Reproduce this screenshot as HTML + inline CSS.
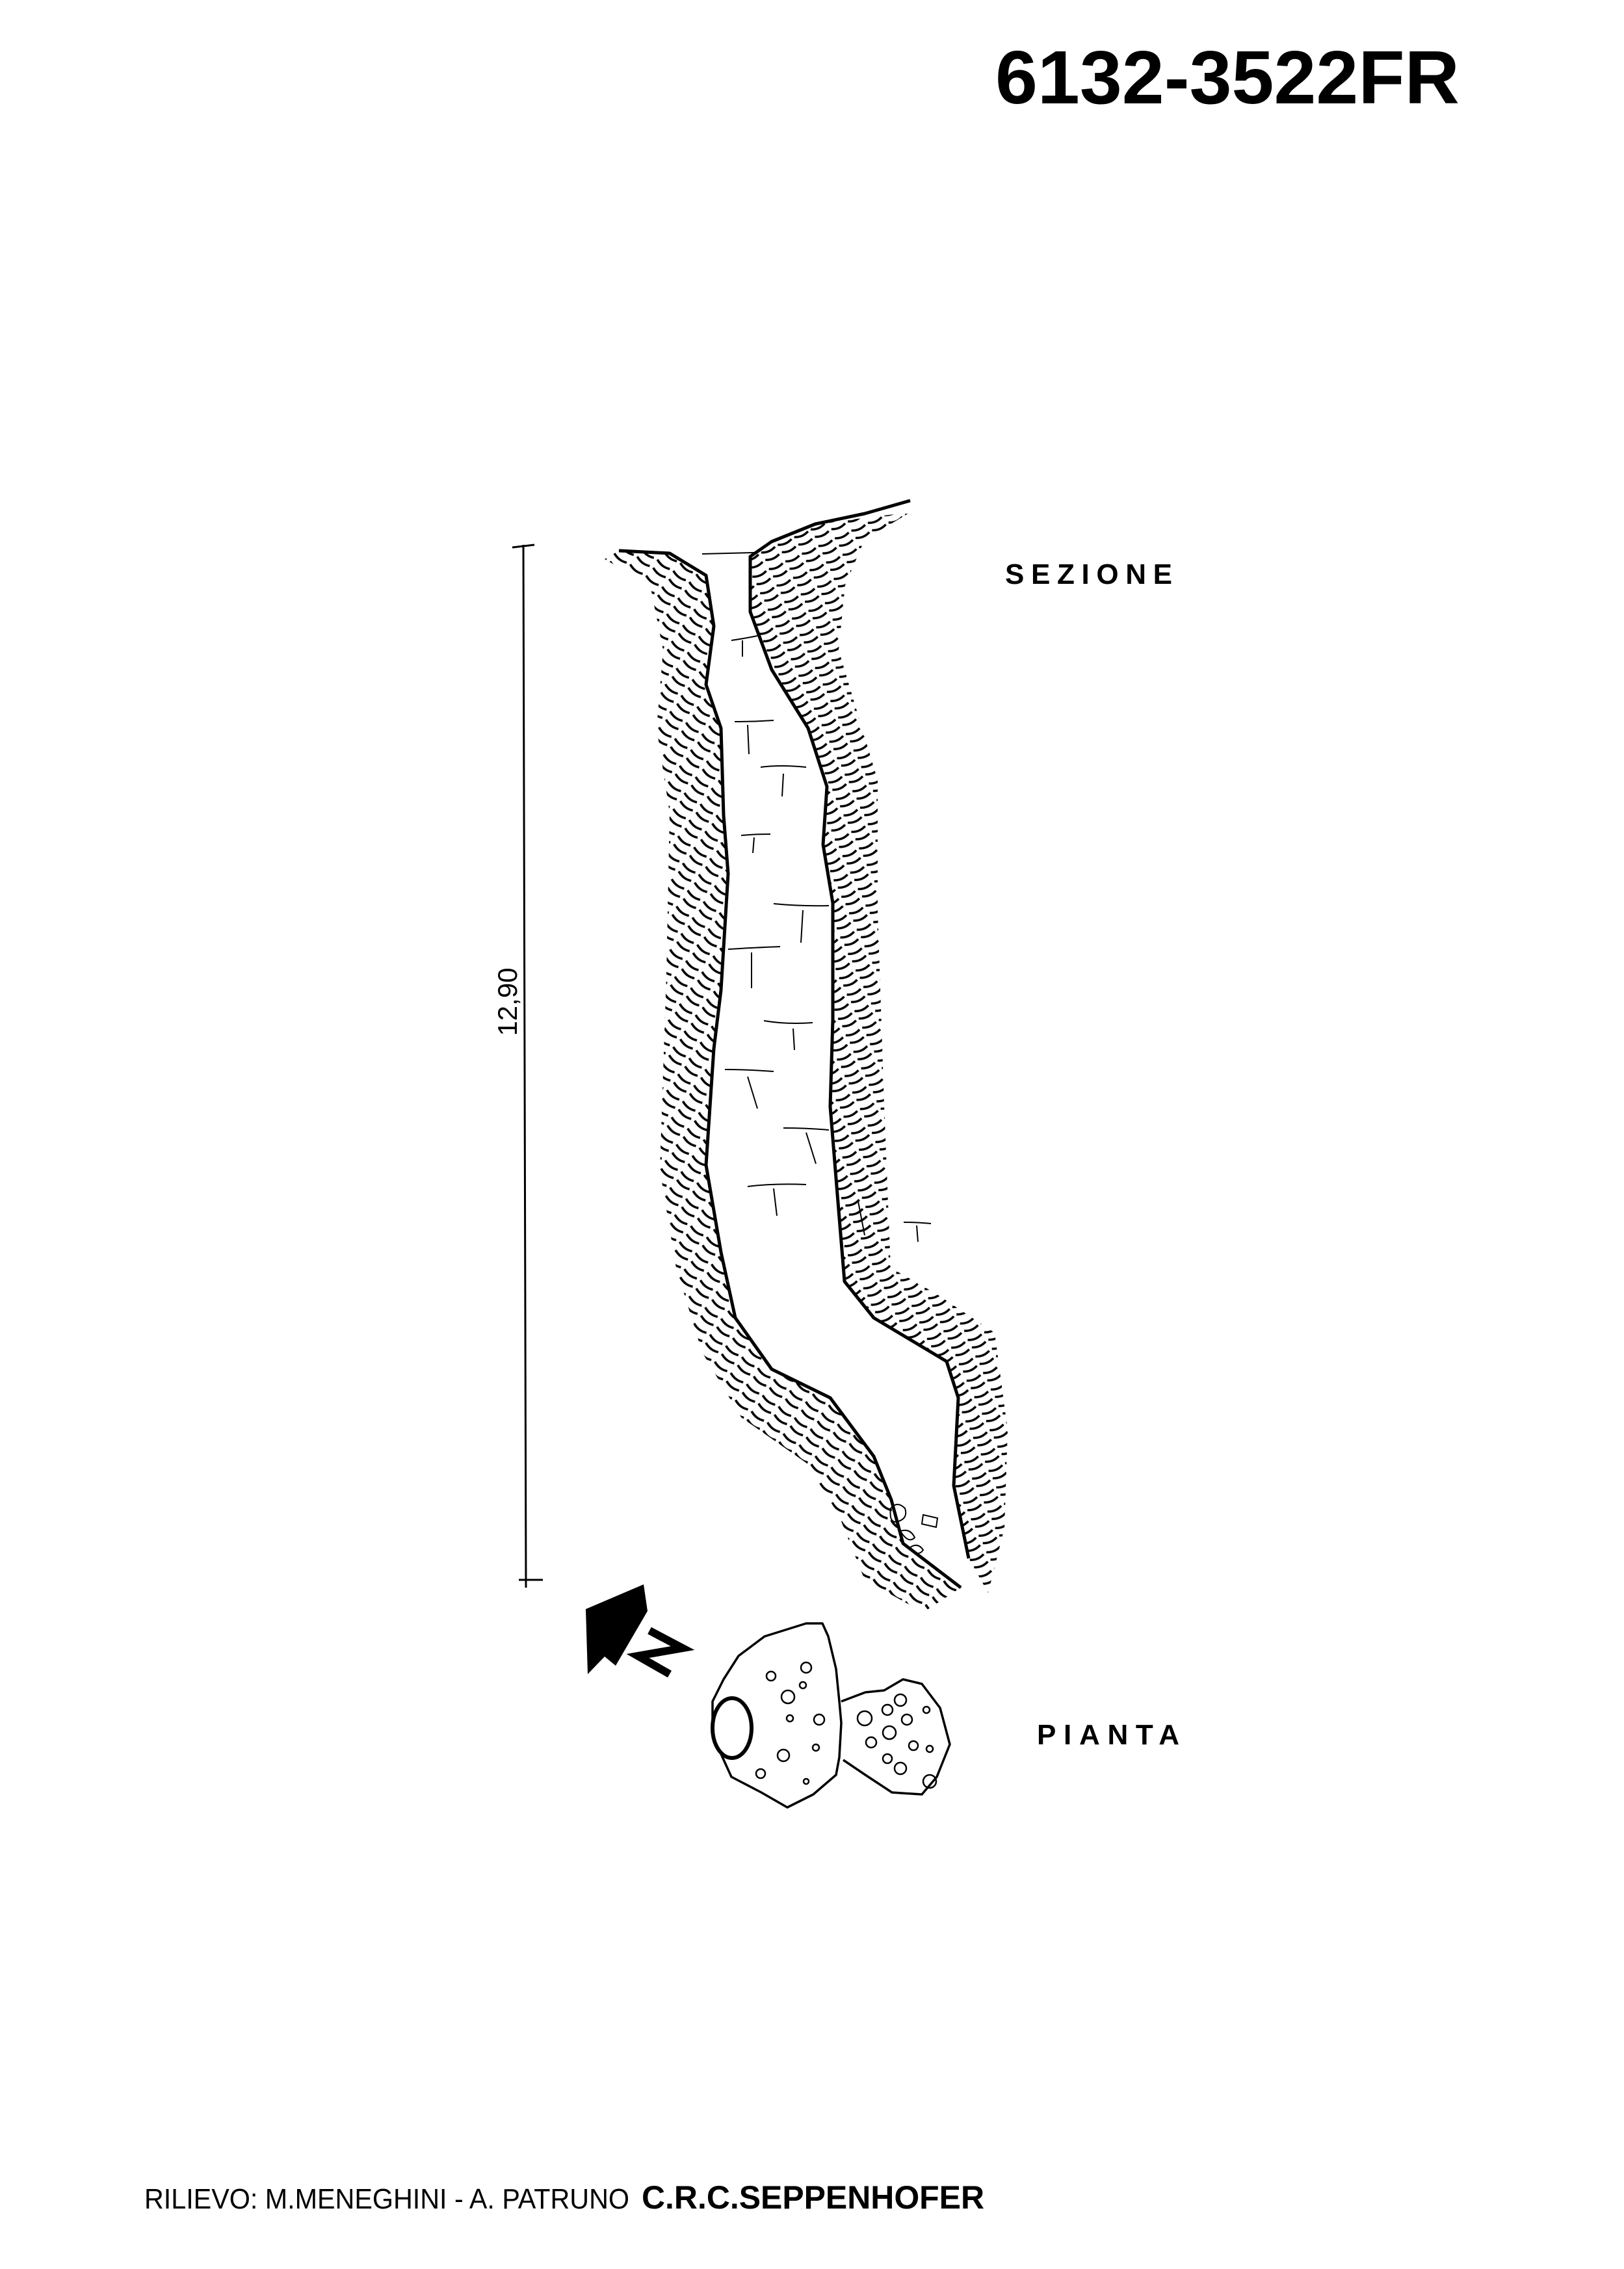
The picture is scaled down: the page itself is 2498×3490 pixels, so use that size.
<!DOCTYPE html>
<html><head><meta charset="utf-8"><style>
html,body{margin:0;padding:0;background:#fff}
svg{display:block}
</style></head><body>
<svg width="2498" height="3490" viewBox="0 0 2498 3490" xmlns="http://www.w3.org/2000/svg">
<defs>
<pattern id="h1" width="30" height="30" patternUnits="userSpaceOnUse" patternTransform="rotate(35)">
<rect width="30" height="30" fill="#fff"/>
<path d="M2 5 Q14 11 26 6 M4 19 Q16 25 28 20" stroke="#000" stroke-width="3.5" fill="none"/>
</pattern>
<pattern id="h2" width="28" height="28" patternUnits="userSpaceOnUse" patternTransform="rotate(-25)">
<rect width="28" height="28" fill="#fff"/>
<path d="M2 5 Q13 11 25 6 M3 18 Q14 24 26 19" stroke="#000" stroke-width="3.5" fill="none"/>
</pattern>
</defs>
<rect width="2498" height="3490" fill="#fff"/>
<text x="1531" y="159" font-family="Liberation Sans, sans-serif" font-weight="bold" font-size="116" textLength="714" lengthAdjust="spacingAndGlyphs">6132-3522FR</text>

<!-- scale bar -->
<line x1="805" y1="838" x2="809" y2="2442" stroke="#000" stroke-width="3"/>
<line x1="788" y1="842" x2="822" y2="838" stroke="#000" stroke-width="3"/>
<line x1="798" y1="2430" x2="835" y2="2430" stroke="#000" stroke-width="3"/>
<text transform="translate(795,1541) rotate(-90)" text-anchor="middle" font-family="Liberation Sans, sans-serif" font-size="42">12,90</text>

<text x="1546" y="898" font-family="Liberation Sans, sans-serif" font-weight="bold" font-size="44" textLength="257">SEZIONE</text>
<text x="1595" y="2683" font-family="Liberation Sans, sans-serif" font-weight="bold" font-size="44" textLength="219">PIANTA</text>

<!-- hatch bands -->
<path d="M952 847 L1030 851 L1086 885 L1098 963 L1086 1053 L1109 1120 L1113 1254 L1120 1344 L1109 1523 L1098 1613 L1086 1792 L1109 1926 L1131 2027 L1187 2106 L1277 2150 L1344 2240 L1371 2307 L1389 2374 L1478 2442 L1420 2480 L1330 2430 L1290 2330 L1240 2250 L1140 2180 L1080 2080 L1040 1950 L1015 1800 L1025 1500 L1030 1250 L1010 1120 L1020 1000 L1000 900 L930 860 Z" fill="url(#h1)"/>
<path d="M1400 788 L1254 806 L1187 833 L1154 856 L1154 941 L1187 1030 L1243 1120 L1272 1210 L1266 1299 L1281 1389 L1281 1568 L1277 1702 L1288 1837 L1299 1971 L1344 2027 L1456 2094 L1474 2150 L1467 2285 L1490 2397 L1520 2450 L1545 2350 L1550 2200 L1530 2050 L1440 1990 L1370 1950 L1360 1700 L1350 1400 L1350 1200 L1320 1100 L1290 1000 L1300 900 L1330 830 Z" fill="url(#h2)"/>

<!-- cave walls -->
<path d="M952 847 L1030 851 L1086 885 L1098 963 L1086 1053 L1109 1120 L1113 1254 L1120 1344 L1109 1523 L1098 1613 L1086 1792 L1109 1926 L1131 2027 L1187 2106 L1277 2150 L1344 2240 L1371 2307 L1389 2374 L1478 2442" fill="none" stroke="#000" stroke-width="5" stroke-linejoin="round"/>
<path d="M1400 770 L1330 790 L1254 806 L1187 833 L1154 856 L1154 941 L1187 1030 L1243 1120 L1272 1210 L1266 1299 L1281 1389 L1281 1568 L1277 1702 L1288 1837 L1299 1971 L1344 2027 L1456 2094 L1474 2150 L1467 2285 L1490 2397" fill="none" stroke="#000" stroke-width="5" stroke-linejoin="round"/>
<line x1="1080" y1="852" x2="1160" y2="850" stroke="#000" stroke-width="2"/>
<!-- inner cracks -->
<g stroke="#000" stroke-width="2" fill="none">
<path d="M1125 985 Q1145 982 1165 978 M1142 985 L1142 1010"/>
<path d="M1130 1110 Q1160 1110 1190 1108 M1150 1115 L1152 1160"/>
<path d="M1170 1180 Q1200 1176 1240 1180 M1205 1190 L1203 1225"/>
<path d="M1140 1285 Q1160 1283 1185 1283 M1160 1288 L1158 1312"/>
<path d="M1190 1390 Q1230 1394 1275 1393 M1235 1400 L1232 1450"/>
<path d="M1120 1460 Q1150 1458 1200 1456 M1156 1465 L1156 1520"/>
<path d="M1175 1570 Q1210 1576 1250 1573 M1220 1582 L1222 1615"/>
<path d="M1115 1645 Q1150 1645 1190 1648 M1150 1656 L1165 1705"/>
<path d="M1205 1735 Q1240 1735 1275 1738 M1240 1742 L1255 1790"/>
<path d="M1320 1848 L1330 1900 M1390 1880 Q1410 1880 1432 1882 M1410 1885 L1412 1910"/>
<path d="M1150 1825 Q1190 1820 1240 1822 M1190 1828 L1195 1870"/>
<path d="M1370 2320 q10 -12 22 0 q5 15 -10 20 q-15 5 -12 -20 M1385 2355 q15 -5 22 10 q-10 10 -22 -10 M1400 2380 q12 -8 20 4 q-8 12 -20 -4 M1420 2330 l22 5 l-2 14 l-22 -5 z"/>
</g>

<!-- plan -->
<path d="M1096 2617 L1113 2583 L1136 2547 L1176 2517 L1240 2497 L1265 2497 L1274 2517 L1286 2567 L1291 2617 L1294 2650 L1291 2703 L1286 2730 L1251 2760 L1211 2780 L1171 2757 L1125 2733 L1110 2700 L1096 2667 Z" fill="#fff" stroke="#000" stroke-width="3.5" stroke-linejoin="round"/>
<path d="M1294 2617 L1331 2603 L1360 2600 L1389 2583 L1418 2590 L1446 2627 L1461 2683 L1441 2733 L1418 2760 L1372 2757 L1331 2730 L1297 2707" fill="none" stroke="#000" stroke-width="3.5" stroke-linejoin="round"/>
<ellipse cx="1126" cy="2658" rx="30" ry="46" fill="#fff" stroke="#000" stroke-width="6"/>
<g stroke="#000" stroke-width="2.5" fill="none">
<circle cx="1186" cy="2578" r="7"/><circle cx="1240" cy="2565" r="8"/><circle cx="1235" cy="2592" r="5"/><circle cx="1212" cy="2610" r="10"/><circle cx="1260" cy="2645" r="8"/><circle cx="1215" cy="2643" r="5"/><circle cx="1205" cy="2700" r="9"/><circle cx="1255" cy="2688" r="5"/><circle cx="1170" cy="2728" r="7"/><circle cx="1240" cy="2740" r="4"/>
<circle cx="1330" cy="2643" r="11"/><circle cx="1365" cy="2630" r="8"/><circle cx="1385" cy="2615" r="9"/><circle cx="1395" cy="2645" r="8"/><circle cx="1368" cy="2665" r="10"/><circle cx="1340" cy="2680" r="8"/><circle cx="1405" cy="2685" r="7"/><circle cx="1430" cy="2690" r="5"/><circle cx="1365" cy="2705" r="7"/><circle cx="1385" cy="2720" r="9"/><circle cx="1425" cy="2630" r="5"/><circle cx="1430" cy="2740" r="10"/>
</g>

<!-- north arrow -->
<polygon points="990,2437 996,2478 947,2562 930,2548 904,2575 901,2475" fill="#000"/>
<polyline points="999,2508 1050,2535 981,2547 1030,2575" fill="none" stroke="#000" stroke-width="12" stroke-linejoin="miter"/>

<text x="222" y="3397" font-family="Liberation Sans, sans-serif" font-size="44" textLength="746" lengthAdjust="spacingAndGlyphs">RILIEVO: M.MENEGHINI - A. PATRUNO</text>
<text x="987" y="3397" font-family="Liberation Sans, sans-serif" font-weight="bold" font-size="50" textLength="527" lengthAdjust="spacingAndGlyphs">C.R.C.SEPPENHOFER</text>
</svg>
</body></html>
